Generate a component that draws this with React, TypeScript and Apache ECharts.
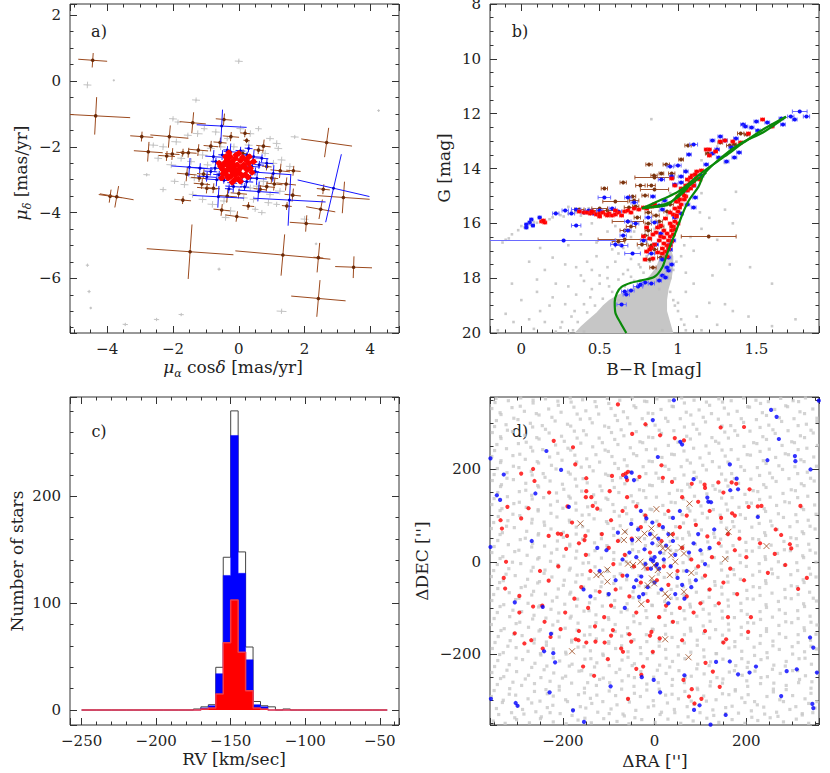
import React, { useEffect, useRef } from "react";
import * as echarts from "echarts";

const FONT = "DejaVu Serif";
const AXC = "#333";

// ---------------- Panel a: proper motions ----------------
// [pmRA cos(dec), pmDec, errRA, errDec, tilt(deg)]
const pmBrown = [
  [-4.44, 0.63, 0.44, 0.22, 4], [-4.35, -1.06, 1.05, 0.57, 3], [-1.4, -1.27, 0.4, 0.32, 5], [-0.45, -1.17, 0.25, 0.18, 5],
  [-2.95, -1.69, 0.35, 0.15, 4], [-2.11, -1.69, 0.58, 0.34, 5], [-2.75, -2.15, 0.44, 0.3, 4], [-2.19, -2.28, 0.25, 0.15, 4],
  [-2.02, -2.22, 0.22, 0.18, 4], [-1.7, -2.18, 0.2, 0.12, 4], [-1.53, -2.18, 0.25, 0.15, 4], [-1.23, -2.1, 0.3, 0.18, 5],
  [-0.85, -1.98, 0.22, 0.16, 5], [-0.57, -1.87, 0.2, 0.15, 5], [-0.24, -1.69, 0.25, 0.14, 5], [0.19, -1.59, 0.15, 0.12, 5],
  [0.24, -1.81, 0.1, 0.08, 5], [0.75, -1.98, 0.22, 0.2, 6], [0.6, -2.1, 0.15, 0.12, 5], [2.67, -1.87, 0.78, 0.45, 8],
  [-3.91, -3.5, 0.35, 0.2, 8], [-3.71, -3.52, 0.52, 0.33, 10], [-1.7, -3.62, 0.25, 0.12, 5], [-1.58, -2.83, 0.3, 0.22, 5],
  [-1.07, -2.83, 0.2, 0.15, 5], [-0.97, -3.26, 0.3, 0.16, 5], [-0.52, -3.92, 0.25, 0.18, 6], [-0.06, -4.12, 0.35, 0.16, 8],
  [0.29, -3.8, 0.18, 0.12, 5], [0.85, -2.6, 0.15, 0.12, 5], [1.08, -3.13, 0.25, 0.2, 6], [1.26, -2.73, 0.3, 0.22, 6],
  [1.44, -3.13, 0.3, 0.2, 6], [1.64, -3.47, 0.25, 0.2, 6], [1.66, -2.73, 0.22, 0.15, 5], [1.46, -3.8, 0.15, 0.12, 5],
  [2.05, -4.33, 0.5, 0.25, 4], [2.49, -3.9, 0.45, 0.3, 10], [2.57, -3.29, 0.2, 0.15, 6], [3.18, -3.54, 0.8, 0.48, 4],
  [-1.48, -5.19, 1.32, 0.83, 4], [1.34, -5.29, 1.45, 0.63, 5], [2.42, -5.37, 0.15, 0.45, 5], [3.49, -5.66, 0.56, 0.33, 2],
  [2.42, -6.61, 0.83, 0.56, 5], [0.85, -3.21, 0.25, 0.15, 6], [0.65, -3.29, 0.2, 0.12, 6], [-1.12, -3.13, 0.25, 0.15, 5],
  [-0.77, -3.26, 0.2, 0.15, 5], [0.12, -2.2, 0.15, 0.12, 5], [-0.35, -3.5, 0.3, 0.2, 5], [0.0, -3.42, 0.25, 0.15, 5],
  [1.0, -2.95, 0.2, 0.15, 5], [-1.2, -2.95, 0.25, 0.12, 5],
];
const pmBlue = [
  [-0.52, -1.37, 0.76, 0.5, 3], [-1.5, -2.62, 0.55, 0.28, 4], [-0.62, -3.52, 0.78, 0.33, 3], [0.6, -3.36, 0.62, 0.3, 4],
  [1.54, -3.62, 1.1, 0.78, 3], [2.88, -3.26, 1.12, 1.06, 13], [1.05, -2.81, 0.55, 0.25, 4], [-0.77, -2.3, 0.25, 0.2, 4],
  [0.45, -2.3, 0.25, 0.2, 4], [0.55, -2.96, 0.3, 0.2, 4], [-0.67, -3.0, 0.35, 0.2, 4], [-0.26, -2.15, 0.2, 0.25, 4],
  [0.24, -3.06, 0.2, 0.15, 4], [-1.18, -2.65, 0.4, 0.15, 4], [0.85, -2.5, 0.2, 0.15, 4], [-0.16, -3.21, 0.25, 0.18, 4],
  [-0.97, -2.91, 0.3, 0.15, 4], [0.4, -2.6, 0.25, 0.2, 4], [-0.7, -2.45, 0.15, 0.12, 4], [-0.6, -2.85, 0.18, 0.12, 4],
  [-0.5, -2.25, 0.12, 0.15, 4], [-0.35, -2.1, 0.12, 0.12, 4], [0.05, -2.12, 0.15, 0.12, 4], [0.25, -2.25, 0.12, 0.1, 4],
  [0.42, -2.45, 0.15, 0.12, 4], [0.5, -2.75, 0.12, 0.12, 4], [0.35, -2.95, 0.15, 0.1, 4], [0.1, -3.05, 0.12, 0.12, 4],
  [-0.2, -3.1, 0.15, 0.12, 4], [-0.45, -3.02, 0.12, 0.1, 4], [-0.72, -2.65, 0.15, 0.12, 4], [-0.55, -2.55, 0.1, 0.1, 4],
  [0.62, -2.55, 0.15, 0.12, 4], [0.3, -2.05, 0.12, 0.12, 4], [-0.3, -3.28, 0.12, 0.14, 4], [0.18, -3.22, 0.14, 0.12, 4],
  [-0.85, -2.75, 0.2, 0.12, 4], [0.7, -2.35, 0.2, 0.12, 4],
];
// [pmRA, pmDec] ; typical error [errRA, errDec]
const pmRed = [
  [-0.15, -2.65], [-0.3, -2.6], [0.0, -2.7], [-0.2, -2.45], [-0.1, -2.85], [-0.4, -2.75], [0.15, -2.55], [-0.35, -2.4],
  [0.05, -2.42], [-0.25, -2.9], [0.1, -2.88], [-0.45, -2.55], [0.25, -2.7], [-0.05, -2.55], [-0.22, -2.72], [-0.1, -2.35],
  [-0.5, -2.68], [0.3, -2.5], [0.2, -2.85], [-0.32, -2.95], [-0.02, -2.98], [-0.4, -2.3], [0.12, -2.32], [-0.28, -2.52],
  [0.02, -2.8], [-0.18, -2.8], [0.35, -2.65], [-0.55, -2.6], [-0.12, -3.0], [-0.08, -2.25], [-0.38, -2.85], [0.22, -2.4],
  [-0.26, -2.3], [0.08, -2.62], [-0.42, -2.48], [0.28, -2.92], [-0.15, -2.55], [-0.05, -2.76], [-0.33, -2.68], [0.18, -2.62],
  [-0.48, -2.82], [0.4, -2.78], [-0.6, -2.5], [0.45, -2.45], [-0.2, -3.08], [0.05, -3.05], [-0.3, -2.18], [0.0, -2.2],
  [-0.52, -2.95], [0.32, -2.3],
];
const pmRedErr = [0.1, 0.09];
// [pmRA, pmDec, errRA, errDec]
const pmGrey = [
  [-2.6, -1.95, 0.15, 0.08], [-2.3, -2.0, 0.12, 0.1], [-1.9, -1.85, 0.15, 0.1], [-1.55, -1.65, 0.12, 0.08], [-1.25, -1.6, 0.15, 0.1],
  [-1.05, -1.45, 0.1, 0.08], [-0.7, -1.55, 0.12, 0.1], [-0.35, -1.75, 0.1, 0.08], [0.05, -1.45, 0.12, 0.1], [0.35, -1.6, 0.12, 0.1],
  [0.6, -1.45, 0.1, 0.08], [0.95, -1.75, 0.12, 0.08], [1.15, -1.9, 0.12, 0.1], [1.7, -1.7, 0.12, 0.06], [-2.45, -2.35, 0.12, 0.1],
  [-2.05, -2.55, 0.15, 0.1], [-1.75, -2.35, 0.12, 0.1], [-1.45, -2.45, 0.12, 0.1], [-1.1, -2.25, 0.15, 0.12], [-0.95, -2.55, 0.12, 0.1],
  [-1.35, -2.95, 0.15, 0.1], [-1.65, -3.15, 0.12, 0.1], [-1.95, -3.05, 0.12, 0.08], [-2.8, -2.85, 0.1, 0.05], [-2.3, -3.3, 0.1, 0.08],
  [-1.4, -3.45, 0.12, 0.1], [-1.1, -3.6, 0.12, 0.1], [-0.8, -3.75, 0.15, 0.1], [-0.45, -3.65, 0.12, 0.1], [-0.25, -3.95, 0.15, 0.12],
  [-0.4, -4.15, 0.12, 0.1], [0.15, -3.55, 0.12, 0.1], [0.45, -3.6, 0.12, 0.1], [0.7, -4.0, 0.12, 0.08], [0.95, -3.45, 0.12, 0.1],
  [1.25, -3.35, 0.15, 0.1], [1.05, -2.5, 0.12, 0.1], [1.3, -2.4, 0.12, 0.1], [0.8, -2.2, 0.12, 0.1], [0.75, -3.05, 0.15, 0.12],
  [0.55, -3.2, 0.12, 0.1], [0.35, -3.25, 0.12, 0.1], [1.15, -3.75, 0.1, 0.08], [2.0, -4.2, 0.12, 0.1], [1.55, -2.6, 0.12, 0.1],
  [-0.55, -2.0, 0.15, 0.1], [-0.15, -2.0, 0.12, 0.1], [0.3, -1.95, 0.12, 0.1], [-0.85, -2.05, 0.12, 0.1], [0.9, -3.7, 0.12, 0.1],
  [-3.8, 0.02, 0.03, 0.03], [-4.6, -0.12, 0.12, 0.1], [0.0, 0.6, 0.12, 0.08], [-1.3, -0.58, 0.12, 0.08], [-4.6, -5.6, 0.05, 0.05],
  [-4.55, -6.4, 0.05, 0.05], [-4.5, -6.9, 0.04, 0.04], [-3.45, -7.4, 0.08, 0.05], [-2.5, -7.25, 0.08, 0.05], [-1.75, -7.1, 0.08, 0.05],
  [-0.6, -5.72, 0.05, 0.05], [1.3, -7.0, 0.15, 0.08], [2.35, -4.95, 0.04, 0.04], [4.25, -0.9, 0.04, 0.04], [-2.0, -1.15, 0.12, 0.08],
  [-1.85, -1.25, 0.1, 0.08], [1.2, -2.05, 0.12, 0.08], [0.5, -3.9, 0.1, 0.08],
];

// ---------------- Panel b: CMD ----------------
// [B-R, G, err, errHi?]
const cmdBlue = [
  [1.777, 11.91, 0.047], [1.82, 12.07, 0.02], [1.72, 12.1, 0.02], [1.66, 12.14, 0.015], [1.745, 12.18, 0.015], [1.67, 12.36, 0.015],
  [1.5, 12.26, 0.015], [1.415, 12.38, 0.015], [1.47, 12.48, 0.015], [1.51, 12.6, 0.015], [1.57, 12.3, 0.015], [1.37, 12.9, 0.015],
  [1.27, 12.82, 0.015], [1.22, 12.97, 0.015], [1.3, 12.97, 0.015], [1.34, 13.2, 0.015], [1.39, 13.4, 0.015], [1.1, 13.09, 0.025],
  [1.07, 13.48, 0.015], [1.22, 13.43, 0.015], [1.26, 13.58, 0.015], [1.31, 13.72, 0.015], [1.36, 13.58, 0.015], [1.18, 13.82, 0.015],
  [1.0, 13.88, 0.02], [0.95, 13.9, 0.02], [0.96, 14.27, 0.015], [0.894, 14.39, 0.02], [1.02, 14.27, 0.015], [1.15, 14.25, 0.015],
  [1.1, 14.61, 0.015], [1.05, 14.8, 0.015], [1.11, 15.04, 0.015], [0.53, 15.04, 0.04], [0.68, 15.04, 0.02], [0.72, 15.22, 0.02],
  [0.35, 15.46, 0.03], [0.43, 15.5, 0.02], [0.5, 15.52, 0.02], [0.4, 15.58, 0.02], [0.32, 15.64, 0.02], [0.22, 15.64, 0.02],
  [0.117, 15.77, 0.01], [0.064, 15.83, 0.01], [0.053, 15.95, 0.01], [0.032, 16.03, 0.01], [0.074, 16.07, 0.01], [0.032, 16.13, 0.01],
  [0.35, 16.07, 0.03], [0.27, 16.59, 0.5, 0.33], [0.64, 16.8, 0.04], [0.6, 16.74, 0.03], [0.71, 17.08, 0.05], [0.65, 16.43, 0.02],
  [0.68, 16.25, 0.02], [0.68, 15.91, 0.02], [0.81, 15.77, 0.02], [0.85, 15.95, 0.02], [0.89, 16.37, 0.015], [0.83, 17.1, 0.02],
  [0.9, 17.29, 0.015], [0.94, 17.23, 0.015], [0.96, 17.47, 0.015], [0.94, 17.71, 0.015], [0.9, 17.89, 0.015], [0.88, 18.08, 0.015],
  [0.83, 18.17, 0.02], [0.79, 18.14, 0.02], [0.745, 18.3, 0.03], [0.7, 18.44, 0.02], [0.67, 18.57, 0.02], [0.64, 18.93, 0.03],
  [0.95, 16.74, 0.015], [0.97, 16.62, 0.015], [1.02, 15.64, 0.015], [1.06, 15.28, 0.015], [1.1, 15.4, 0.015], [0.98, 15.77, 0.015],
  [0.88, 15.34, 0.015], [0.915, 15.16, 0.015], [0.84, 15.01, 0.015], [0.9, 15.46, 0.015], [1.02, 14.49, 0.015], [0.93, 17.6, 0.015],
  [0.92, 17.95, 0.015], [0.95, 16.95, 0.015], [0.78, 16.6, 0.02], [0.73, 16.0, 0.02], [0.62, 15.55, 0.02], [0.58, 15.45, 0.02],
  [0.46, 15.62, 0.02], [0.28, 15.52, 0.02], [1.43, 12.45, 0.015], [1.6, 12.4, 0.015], [1.25, 13.3, 0.015], [1.05, 14.1, 0.015],
  [0.98, 14.55, 0.015], [0.86, 16.75, 0.015], [0.76, 18.2, 0.02], [0.66, 18.48, 0.02],
];
// [B-R, G]; typical colour error
const cmdRed = [
  [0.92, 17.0], [0.93, 16.8], [0.91, 16.7], [0.94, 16.6], [0.95, 16.45], [0.93, 16.35], [0.96, 16.25], [0.97, 16.1], [0.95, 16.0],
  [0.98, 15.9], [0.99, 15.75], [0.97, 15.65], [1.0, 15.55], [1.01, 15.4], [1.02, 15.3], [1.0, 15.2], [1.04, 15.1], [1.05, 15.0],
  [1.03, 14.9], [1.06, 14.8], [1.08, 14.7], [1.07, 14.55], [1.1, 14.45], [1.12, 14.35], [1.09, 14.25], [0.9, 16.9], [0.88, 16.6],
  [0.89, 16.45], [0.86, 16.3], [0.87, 16.15], [0.91, 16.5], [0.94, 16.9], [0.96, 16.65], [0.85, 16.75], [0.83, 16.85], [0.8, 17.0],
  [0.79, 17.3], [0.82, 16.55], [0.84, 16.4], [0.87, 17.05], [0.9, 17.1], [0.92, 15.8], [0.95, 15.6], [0.98, 15.45], [1.0, 15.0],
  [1.02, 14.7], [1.05, 14.6], [1.12, 14.1], [1.15, 14.05], [1.2, 13.5], [1.18, 13.3], [1.2, 13.28], [1.24, 13.35], [1.27, 13.0],
  [1.3, 12.95], [1.35, 13.0], [1.4, 13.05], [1.54, 12.2], [1.6, 12.45], [1.45, 12.7], [1.06, 14.4], [0.96, 14.35], [1.1, 14.6],
  [0.98, 14.6], [0.78, 16.45], [0.8, 16.15], [0.82, 16.95], [0.84, 17.25], [0.13, 15.9], [0.15, 15.95], [0.14, 15.88],
  [0.37, 15.55], [0.4, 15.6], [0.42, 15.58], [0.44, 15.62], [0.46, 15.6], [0.48, 15.65], [0.5, 15.63], [0.52, 15.6], [0.54, 15.66],
  [0.56, 15.62], [0.58, 15.7], [0.6, 15.65], [0.62, 15.6], [0.64, 15.68], [0.66, 15.55], [0.68, 15.5], [0.7, 15.6], [0.72, 15.45],
  [0.55, 15.7], [0.5, 15.72], [0.45, 15.55], [0.6, 15.5], [0.75, 15.48], [0.78, 15.4], [0.8, 15.45], [0.83, 15.35], [0.85, 15.3],
  [0.98, 16.2], [1.0, 16.0], [0.99, 15.2], [1.03, 14.75], [1.11, 14.2], [0.93, 17.2], [0.95, 16.8], [0.97, 16.4], [0.96, 16.1],
  [0.99, 15.7], [1.01, 15.1], [1.04, 14.95], [1.08, 14.5], [1.14, 14.4], [1.08, 14.3], [0.91, 16.25], [0.89, 16.05],
];
const cmdRedErr = 0.012;
const cmdBrown = [
  [1.064, 13.16, 0.02], [1.02, 13.64, 0.015], [0.815, 13.85, 0.02], [0.925, 13.82, 0.02], [0.894, 14.16, 0.015], [0.96, 14.15, 0.02],
  [0.847, 14.22, 0.02], [0.85, 14.3, 0.125], [0.65, 14.49, 0.02], [0.83, 14.59, 0.025], [0.53, 14.71, 0.02], [0.85, 14.73, 0.09],
  [0.79, 14.98, 0.02], [0.71, 15.0, 0.02], [0.6, 15.2, 0.08], [0.72, 15.15, 0.03], [0.37, 15.48, 0.03], [0.45, 15.52, 0.04],
  [0.687, 15.4, 0.03], [0.73, 15.36, 0.02], [0.81, 15.6, 0.02], [0.86, 15.7, 0.02], [0.93, 15.55, 0.02], [0.88, 15.9, 0.02],
  [0.89, 16.08, 0.02], [0.81, 15.98, 0.02], [0.74, 15.77, 0.02], [0.68, 15.93, 0.1], [0.66, 16.25, 0.03], [0.81, 16.23, 0.02],
  [0.79, 16.44, 0.02], [0.66, 16.57, 0.17], [0.83, 16.8, 0.02], [0.85, 16.92, 0.02], [0.82, 17.29, 0.02], [0.89, 17.23, 0.02],
  [0.84, 17.59, 0.02], [1.196, 16.47, 0.175], [1.33, 13.15, 0.02], [1.36, 13.1, 0.015], [1.27, 13.05, 0.015], [1.4, 12.7, 0.02],
  [1.44, 12.75, 0.015], [1.19, 13.45, 0.015], [0.7, 16.1, 0.03], [0.62, 16.65, 0.04], [0.77, 16.75, 0.03], [0.55, 15.5, 0.05],
  [0.5, 15.45, 0.05], [0.95, 15.3, 0.02], [0.76, 14.6, 0.03],
];
const cmdGrey = [
  [0.83, 12.2], [1.37, 14.85], [1.3, 15.5], [1.35, 16.0], [1.33, 17.5], [1.3, 18.95], [1.46, 17.6], [1.2, 15.8], [1.15, 16.2],
  [1.25, 16.6], [1.1, 17.0], [1.08, 16.5], [1.14, 15.6], [1.05, 18.5], [1.1, 18.2], [1.2, 18.9], [1.12, 19.4], [1.25, 19.7],
  [1.6, 19.75], [1.35, 19.2], [1.05, 17.8], [1.0, 18.9], [0.3, 18.3], [0.2, 18.7], [0.1, 18.5], [-0.06, 18.2], [0.05, 19.5],
  [-0.15, 19.9], [-0.05, 19.6], [0.12, 19.2], [0.25, 19.8], [0.32, 19.4], [0.18, 19.0], [0.4, 18.95], [0.35, 18.6], [0.45, 18.4],
  [0.5, 18.2], [0.38, 17.9], [0.45, 17.7], [0.55, 17.6], [0.6, 17.4], [0.5, 17.9], [0.65, 17.85], [0.62, 17.1], [0.7, 17.3],
  [0.75, 17.5], [0.68, 17.7], [0.78, 17.8], [0.82, 17.4], [0.85, 17.1], [0.42, 17.4], [0.28, 17.5], [0.15, 17.7], [0.05, 17.4],
  [0.2, 17.25], [0.58, 16.95], [0.48, 16.7], [0.38, 16.4], [0.55, 16.3], [0.3, 16.8], [0.12, 16.9], [-0.1, 16.6], [-0.06, 16.4],
  [-0.02, 16.25], [0.02, 16.15], [0.06, 16.05], [0.1, 15.98], [0.15, 15.9], [0.2, 15.78], [0.25, 15.7], [0.3, 15.65], [0.35, 15.6],
  [0.4, 15.52], [0.45, 15.5], [0.5, 15.48], [0.27, 15.75], [0.22, 15.6], [0.32, 15.58], [0.18, 15.85], [0.08, 15.95], [0.0, 16.1],
  [0.38, 15.72], [0.43, 15.45], [0.3, 15.4], [-0.12, 16.7], [-0.08, 16.55], [0.6, 16.1], [0.7, 16.5], [0.75, 16.9], [0.8, 16.7],
  [0.85, 16.2], [0.83, 15.9], [0.88, 15.55], [0.9, 15.25], [0.95, 14.9], [1.0, 14.3], [1.05, 14.05], [1.15, 13.7], [1.25, 13.2],
  [1.3, 13.8], [1.38, 13.4], [0.93, 15.7], [0.96, 17.0], [0.99, 17.4], [1.02, 17.2], [1.04, 16.8], [0.97, 17.7], [0.95, 18.0],
  [0.36, 19.6], [0.33, 19.9], [0.42, 19.25], [0.47, 19.0], [0.52, 18.75], [0.58, 18.5], [0.66, 18.3], [0.72, 18.1], [0.85, 18.15],
  [0.95, 18.5], [0.98, 19.0], [1.02, 19.5], [1.05, 19.9], [0.4, 19.95], [0.3, 20.0], [0.26, 19.6], [0.22, 19.95], [0.34, 19.2],
  [0.44, 18.7], [0.56, 18.3], [0.62, 18.05], [0.7, 17.95], [0.76, 17.6], [0.8, 17.2], [0.88, 18.4], [0.97, 18.8], [1.0, 19.2],
  [1.04, 19.7], [0.9, 19.9], [1.15, 19.9], [0.15, 19.6], [0.08, 19.85], [-0.1, 19.3], [0.0, 18.8], [0.22, 18.2], [0.35, 17.6],
  [0.48, 17.2], [0.55, 18.0], [0.62, 18.8], [0.4, 18.1], [0.28, 18.95], [0.1, 18.05], [0.6, 16.6], [0.45, 16.0], [0.65, 16.9],
  [1.22, 17.9], [1.45, 19.4], [1.75, 19.5], [1.6, 18.2], [1.15, 14.9], [0.72, 16.3],
];
// outline of the densest part of the faint main sequence
const cmdDense = [
  [0.34, 20.0], [0.38, 19.75], [0.43, 19.5], [0.48, 19.25], [0.52, 19.0], [0.56, 18.8], [0.62, 18.6], [0.7, 18.4], [0.76, 18.2],
  [0.82, 17.9], [0.86, 17.6], [0.88, 17.3], [0.91, 17.0], [0.95, 16.9], [0.97, 17.2], [0.97, 17.6], [0.96, 18.0], [0.94, 18.4],
  [0.93, 18.8], [0.93, 19.2], [0.95, 19.6], [0.97, 20.0],
];
const isoRGB = [
  [0.67, 20.0], [0.63, 19.6], [0.6, 19.25], [0.596, 18.87], [0.61, 18.55], [0.64, 18.32], [0.7, 18.17], [0.766, 18.08], [0.85, 17.95],
  [0.9, 17.6], [0.925, 17.2], [0.947, 16.86], [0.99, 16.25], [1.03, 15.64], [1.07, 15.16], [1.13, 14.67], [1.17, 14.18], [1.28, 13.58],
  [1.4, 13.09], [1.55, 12.66], [1.69, 12.11],
];
const isoAGB = [
  [0.77, 15.45], [0.85, 15.25], [0.93, 15.05], [1.0, 14.85], [1.06, 14.6], [1.12, 14.3], [1.2, 13.95], [1.3, 13.55], [1.42, 13.05],
  [1.55, 12.55], [1.69, 12.11],
];
const isoHB1 = [[0.77, 15.45], [0.88, 15.35], [0.96, 15.2], [1.02, 14.95], [1.06, 14.7], [1.09, 14.45]];
const isoHB2 = [[0.77, 15.45], [0.86, 15.4], [0.93, 15.33], [0.98, 15.1], [1.03, 14.8], [1.1, 14.5], [1.18, 14.15]];

// ---------------- Panel c: RV histogram ----------------
const rvStart = -250;
const rvWidth = 5;
const rvAll = [
  0, 0, 0, 0, 0, 0, 0, 0, 0, 0, 0, 0, 0, 0, 0, 1, 3, 5, 40, 143, 280, 148, 59, 8, 4, 3, 0, 1, 0, 0, 0, 0, 0, 0, 0, 0, 0, 0, 0, 0, 0,
];
const rvBlue = [
  0, 0, 0, 0, 0, 0, 0, 0, 0, 0, 0, 0, 0, 0, 0, 0, 2, 4, 34, 126, 257, 128, 47, 5, 3, 0, 0, 0, 0, 0, 0, 0, 0, 0, 0, 0, 0, 0, 0, 0, 0,
];
const rvRed = [
  0, 0, 0, 0, 0, 0, 0, 0, 0, 0, 0, 0, 0, 0, 0, 0, 1, 2, 15, 63, 103, 54, 18, 2, 1, 0, 0, 0, 0, 0, 0, 0, 0, 0, 0, 0, 0, 0, 0, 0, 0,
];

// ---------------- Panel d: positions ----------------
// flat lists of dRA, dDEC pairs (arcsec) for the field stars
const fieldGrey = [
  -352,-345,-326,-350,-301,-342,-273,-349,-249,-340,-221,-347,-193,-351,-167,-343,-138,-349,-111,-340,-82,-346,-56,-351,-28,-342,1,-348,29,-341,57,-350,84,-345,114,-339,140,-348,169,-342,197,-350,225,-344,252,-338,281,-347,309,-341,336,-350,
  -345,-318,-312,-327,-288,-320,-259,-325,-234,-316,-206,-329,-178,-321,-150,-317,-124,-326,-95,-319,-69,-330,-41,-322,-14,-315,15,-326,43,-320,71,-314,99,-327,127,-321,155,-316,183,-328,211,-323,238,-315,266,-326,295,-320,322,-329,350,-317,
  -356,-292,-330,-300,-303,-289,-276,-297,-250,-302,-221,-291,-194,-299,-166,-288,-140,-296,-113,-303,-85,-290,-58,-298,-31,-292,-3,-301,24,-289,52,-297,80,-302,107,-291,134,-299,162,-288,190,-295,218,-303,245,-292,273,-299,301,-290,328,-297,354,-303,
  -343,-266,-316,-275,-290,-268,-262,-264,-237,-277,-208,-270,-181,-263,-153,-274,-127,-268,-98,-262,-72,-276,-45,-270,-17,-265,10,-276,38,-268,65,-262,93,-274,121,-269,148,-263,176,-277,203,-270,231,-264,259,-276,287,-268,314,-262,341,-274,
  -355,-240,-329,-249,-301,-238,-275,-246,-248,-251,-220,-241,-194,-248,-165,-237,-139,-245,-112,-252,-84,-240,-57,-247,-30,-238,-2,-250,25,-242,53,-236,80,-248,108,-243,136,-251,163,-239,191,-246,219,-237,246,-249,274,-242,301,-236,329,-247,355,-241,
  -342,-214,-317,-223,-288,-212,-261,-220,-235,-226,-207,-215,-180,-222,-152,-211,-126,-219,-99,-225,-71,-213,-44,-221,-16,-210,11,-224,39,-216,66,-210,94,-222,122,-217,149,-211,177,-225,204,-218,232,-212,260,-224,287,-216,315,-210,342,-222,
  -354,-188,-330,-197,-302,-186,-276,-194,-249,-199,-221,-189,-194,-196,-167,-185,-140,-193,-113,-200,-85,-188,-58,-195,-31,-186,-4,-198,24,-190,51,-184,79,-196,107,-191,134,-199,162,-187,190,-194,217,-185,245,-197,272,-190,300,-184,327,-195,353,-189,
  -341,-162,-315,-171,-289,-160,-262,-168,-236,-174,-208,-163,-181,-170,-153,-159,-127,-167,-100,-173,-72,-161,-45,-169,-18,-158,10,-172,38,-164,65,-158,93,-170,120,-165,148,-159,175,-173,203,-166,231,-160,258,-172,286,-164,313,-158,340,-170,
  -356,-136,-328,-145,-302,-134,-275,-142,-249,-147,-222,-137,-195,-144,-167,-133,-141,-141,-113,-148,-86,-136,-59,-143,-32,-134,-5,-146,23,-138,50,-132,78,-144,106,-139,133,-147,161,-135,189,-142,216,-133,244,-145,271,-138,299,-132,326,-143,354,-137,
  -343,-110,-316,-119,-290,-108,-263,-116,-237,-122,-209,-111,-182,-118,-154,-107,-128,-115,-101,-121,-73,-109,-46,-117,-19,-106,9,-120,37,-112,64,-106,92,-118,119,-113,147,-107,174,-121,202,-114,230,-108,257,-120,285,-112,312,-106,339,-118,
  -355,-84,-329,-93,-303,-82,-276,-90,-250,-95,-223,-85,-196,-92,-168,-81,-142,-89,-114,-96,-87,-84,-60,-91,-33,-82,-6,-94,22,-86,49,-80,77,-92,105,-87,132,-95,160,-83,188,-90,215,-81,243,-93,270,-86,298,-80,325,-91,353,-85,
  -342,-58,-317,-67,-291,-56,-264,-64,-238,-70,-210,-59,-183,-66,-155,-55,-129,-63,-102,-69,-74,-57,-47,-65,-20,-54,8,-68,36,-60,63,-54,91,-66,118,-61,146,-55,173,-69,201,-62,229,-56,256,-68,284,-60,311,-54,338,-66,
  -356,-32,-330,-41,-304,-30,-277,-38,-251,-43,-224,-33,-197,-40,-169,-29,-143,-37,-115,-44,-88,-32,-61,-39,-34,-30,-7,-42,21,-34,48,-28,76,-40,104,-35,131,-43,159,-31,187,-38,214,-29,242,-41,269,-34,297,-28,324,-39,352,-33,
  -343,-6,-318,-15,-292,-4,-265,-12,-239,-18,-211,-7,-184,-14,-156,-3,-130,-11,-103,-17,-75,-5,-48,-13,-21,-2,7,-16,35,-8,62,-2,90,-14,117,-9,145,-3,172,-17,200,-10,228,-4,255,-16,283,-8,310,-2,337,-14,
  -355,20,-331,11,-305,22,-278,14,-252,9,-225,19,-198,12,-170,23,-144,15,-116,8,-89,20,-62,13,-35,22,-8,10,20,18,47,24,75,12,103,17,130,9,158,21,186,14,213,23,241,11,268,18,296,24,323,13,351,19,
  -342,46,-319,37,-293,48,-266,40,-240,34,-212,45,-185,38,-157,49,-131,41,-104,35,-76,47,-49,39,-22,50,6,36,34,44,61,50,89,38,116,43,144,49,171,35,199,42,227,48,254,36,282,44,309,50,336,38,
  -356,72,-332,63,-306,74,-279,66,-253,61,-226,71,-199,64,-171,75,-145,67,-117,60,-90,72,-63,65,-36,74,-9,62,19,70,46,76,74,64,102,69,129,61,157,73,185,66,212,75,240,63,267,70,295,76,322,65,350,71,
  -341,98,-320,89,-294,100,-267,92,-241,86,-213,97,-186,90,-158,101,-132,93,-105,87,-77,99,-50,91,-23,102,5,88,33,96,60,102,88,90,115,95,143,101,170,87,198,94,226,100,253,88,281,96,308,102,335,90,
  -355,124,-333,115,-307,126,-280,118,-254,113,-227,123,-200,116,-172,127,-146,119,-118,112,-91,124,-64,117,-37,126,-10,114,18,122,45,128,73,116,101,121,128,113,156,125,184,118,211,127,239,115,266,122,294,128,321,117,349,123,
  -342,150,-321,141,-295,152,-268,144,-242,139,-214,149,-187,142,-159,153,-133,145,-106,138,-78,150,-51,143,-24,154,4,140,32,148,59,154,87,142,114,147,142,153,169,139,197,146,225,152,252,140,280,148,307,154,334,142,
  -354,176,-334,167,-308,178,-281,170,-255,165,-228,175,-201,168,-173,179,-147,171,-119,164,-92,176,-65,169,-38,178,-11,166,17,174,44,180,72,168,100,173,127,165,155,177,183,170,210,179,238,167,265,174,293,180,320,169,348,175,
  -343,202,-322,193,-296,204,-269,196,-243,191,-215,201,-188,194,-160,205,-134,197,-107,190,-79,202,-52,195,-25,206,3,192,31,200,58,206,86,194,113,199,141,205,168,191,196,198,224,204,251,192,279,200,306,206,333,194,
  -355,228,-335,219,-309,230,-282,222,-256,217,-229,227,-202,220,-174,231,-148,223,-120,216,-93,228,-66,221,-39,230,-12,218,16,226,43,232,71,220,99,225,126,217,154,229,182,222,209,231,237,219,264,226,292,232,319,221,347,227,
  -344,254,-323,245,-297,256,-270,248,-244,243,-216,253,-189,246,-161,257,-135,249,-108,242,-80,254,-53,247,-26,258,2,244,30,252,57,258,85,246,112,251,140,257,167,243,195,250,223,256,250,244,278,252,305,258,332,246,355,252,
  -354,280,-336,271,-310,282,-283,274,-257,269,-230,279,-203,272,-175,283,-149,275,-121,268,-94,280,-67,273,-40,282,-13,270,15,278,42,284,70,272,98,277,125,269,153,281,181,274,208,283,236,271,263,278,291,284,318,273,346,279,
  -345,306,-324,297,-298,308,-271,300,-245,295,-217,305,-190,298,-162,309,-136,301,-109,294,-81,306,-54,299,-27,310,1,296,29,304,56,310,84,298,111,303,139,309,166,295,194,302,222,308,249,296,277,304,304,310,331,298,354,304,
  -355,332,-337,323,-311,334,-284,326,-258,321,-231,331,-204,324,-176,335,-150,327,-122,320,-95,332,-68,325,-41,334,-14,322,14,330,41,336,69,324,97,329,124,321,152,333,180,326,207,335,235,323,262,330,290,336,317,325,345,331,
  -346,354,-319,349,-292,355,-265,350,-238,353,-211,348,-184,355,-157,351,-130,347,-103,354,-76,350,-49,355,-22,348,5,353,32,349,59,355,86,350,113,346,140,353,167,349,194,355,221,350,248,347,275,354,302,349,329,355,
];
const fieldGrey2 = [
  -340,-331,-305,-338,-285,-330,-247,-336,-228,-327,-180,-333,-152,-339,-99,-329,-66,-334,-43,-338,12,-331,44,-327,73,-336,129,-333,155,-329,212,-337,240,-330,269,-335,322,-332,345,-327,
  -332,-305,-298,-313,-268,-306,-222,-311,-190,-303,-162,-314,-137,-307,-82,-310,-55,-304,-2,-312,28,-306,86,-309,113,-302,169,-313,197,-305,224,-310,281,-303,308,-314,336,-307,
  -350,-279,-317,-287,-262,-281,-234,-286,-208,-278,-153,-284,-126,-289,-99,-280,-44,-285,-17,-278,38,-287,66,-281,94,-277,148,-286,176,-280,204,-288,259,-282,287,-277,341,-285,
  -336,-253,-309,-261,-282,-254,-228,-259,-201,-252,-146,-262,-120,-255,-71,-258,-44,-251,8,-262,39,-255,67,-250,122,-260,149,-254,201,-258,232,-251,260,-263,316,-255,343,-260,
  -349,-227,-322,-235,-268,-229,-241,-234,-186,-226,-159,-236,-131,-228,-76,-233,-49,-225,6,-235,33,-228,92,-232,119,-225,174,-236,202,-229,257,-233,285,-226,312,-236,
  -338,-201,-302,-209,-248,-202,-221,-208,-193,-200,-139,-210,-112,-203,-58,-207,-30,-199,25,-209,52,-202,108,-206,135,-199,190,-210,218,-203,246,-208,301,-200,328,-209,
  -348,-175,-320,-183,-263,-176,-236,-181,-181,-174,-154,-184,-100,-177,-72,-182,-17,-173,10,-183,65,-176,93,-181,148,-174,175,-184,230,-177,258,-182,313,-175,341,-183,
  -335,-149,-307,-157,-252,-150,-224,-155,-169,-148,-141,-158,-86,-151,-59,-156,-3,-147,24,-157,79,-150,107,-155,162,-148,189,-158,244,-151,272,-156,327,-149,352,-157,
  -350,-123,-294,-131,-266,-124,-211,-129,-184,-122,-128,-132,-100,-125,-45,-130,-17,-121,38,-131,66,-124,121,-129,148,-122,203,-132,231,-125,286,-130,313,-123,341,-131,
  -337,-97,-309,-105,-253,-98,-226,-103,-170,-96,-143,-106,-88,-99,-60,-104,-5,-95,23,-105,78,-98,106,-103,161,-96,189,-106,244,-99,272,-104,327,-97,
  -351,-71,-296,-79,-268,-72,-213,-77,-185,-70,-130,-80,-102,-73,-47,-78,-19,-69,36,-79,64,-72,119,-77,147,-70,202,-80,230,-73,285,-78,313,-71,346,-79,
  -338,-45,-282,-53,-255,-46,-199,-51,-172,-44,-117,-54,-89,-47,-34,-52,-6,-43,49,-53,77,-46,132,-51,160,-44,215,-54,243,-47,298,-52,326,-45,
  -351,-19,-324,-27,-269,-20,-241,-25,-186,-18,-158,-28,-103,-21,-75,-26,-20,-17,8,-27,63,-20,91,-25,146,-18,174,-28,229,-21,257,-26,312,-19,340,-27,
  -337,7,-310,-1,-255,6,-227,1,-172,8,-144,-2,-89,5,-62,0,-7,9,21,-1,76,6,104,1,159,8,187,-2,242,5,270,0,325,9,352,-1,
  -350,33,-296,25,-268,32,-213,27,-185,34,-130,24,-103,31,-48,26,-20,35,35,25,62,32,118,27,145,34,200,24,228,31,283,26,311,35,339,25,
  -337,59,-282,51,-254,58,-199,53,-171,60,-116,50,-89,57,-34,52,-6,61,49,51,76,58,131,53,159,60,214,50,242,57,297,52,325,61,
  -351,85,-323,77,-268,84,-240,79,-185,86,-157,76,-102,83,-75,78,-20,87,8,77,63,84,90,79,145,86,173,76,228,83,256,78,311,87,339,77,
  -337,111,-309,103,-254,110,-226,105,-171,112,-143,102,-88,109,-61,104,-6,113,22,103,77,110,104,105,159,112,187,102,242,109,270,104,325,113,352,103,
  -350,137,-295,129,-267,136,-212,131,-184,138,-129,128,-102,135,-47,130,-19,139,36,129,63,136,118,131,146,138,201,128,229,135,284,130,312,139,
  -336,163,-281,155,-253,162,-198,157,-170,164,-115,154,-88,161,-33,156,-5,165,50,155,77,162,132,157,160,164,215,154,243,161,298,156,326,165,
  -350,189,-322,181,-267,188,-239,183,-184,190,-156,180,-101,187,-74,182,-19,191,9,181,64,188,91,183,146,190,174,180,229,187,257,182,312,191,340,181,
  -336,215,-308,207,-253,214,-225,209,-170,216,-142,206,-87,213,-60,208,-5,217,23,207,78,214,105,209,160,216,188,206,243,213,271,208,326,217,353,207,
  -349,241,-294,233,-266,240,-211,235,-183,242,-128,232,-101,239,-46,234,-18,243,37,233,64,240,119,235,147,242,202,232,230,239,285,234,313,243,
  -335,267,-280,259,-252,266,-197,261,-169,268,-114,258,-87,265,-32,260,-4,269,51,259,78,266,133,261,161,268,216,258,244,265,299,260,327,269,
  -349,293,-321,285,-266,292,-238,287,-183,294,-155,284,-100,291,-73,286,-18,295,10,285,65,292,92,287,147,294,175,284,230,291,258,286,313,295,341,285,
  -335,319,-307,311,-252,318,-224,313,-169,320,-141,310,-86,317,-59,312,-4,321,24,311,79,318,106,313,161,320,189,310,244,317,272,312,327,321,354,311,
  -348,345,-293,337,-265,344,-210,339,-182,346,-127,336,-100,343,-45,338,-17,347,38,337,65,344,120,339,148,346,203,336,231,343,286,338,314,347,
];
const posRed = [
  [-80, 341], [-20, 298], [-49, 277], [12, 274], [44, 268], [64, 263], [144, 291], [195, 292], [-220, 262], [-178, 248], [-173, 211],
  [-265, 201], [-262, 175], [-291, 191], [-275, 116], [-321, 119], [-336, 90], [-333, 72], [-291, 94], [-324, 0], [-329, -35],
  [-326, -58], [-295, -74], [-295, -110], [-305, -155], [-284, -177], [-269, -170], [-265, -97], [-245, -95], [-231, -41],
  [-231, 56], [-211, 61], [-191, 56], [-193, 28], [-151, 56], [-153, 47], [-149, 181], [-149, 153], [-138, 140], [-135, 121],
  [-93, 186], [-98, 153], [-69, 188], [-63, 191], [-58, 195], [-60, 177], [-33, 184], [18, 182], [15, 209], [38, 173], [81, 169],
  [109, 167], [139, 172], [168, 172], [178, 169], [207, 157], [205, 119], [169, 105], [233, 121], [318, 121], [264, 70], [276, 58],
  [295, 38], [298, 29], [262, 17], [285, -7], [247, -24], [332, -35], [313, -59], [204, -152], [156, -168], [111, -219],
  [127, -238], [142, -271], [102, -297], [87, -307], [75, -292], [81, -276], [63, -256], [-58, -297], [-25, -227], [-40, -232],
  [-29, -245], [-132, -247], [-156, -227], [-166, -170], [-149, -175], [-129, -173], [-109, -175], [-102, -211], [-69, -195],
  [-73, -188], [-4, -195], [11, -166], [-7, -152], [-55, -157], [-51, -173], [-91, -148], [-172, -168], [-205, -146], [-227, -163],
  [-244, -188], [-204, 60], [-180, 85], [-165, 40], [-150, 15], [-140, -20], [-160, -55], [-175, -80], [-145, -100], [-120, -65],
  [-110, -120], [-130, -140], [-95, -95], [-85, -60], [-70, -30], [-90, -5], [-100, 30], [-115, 60], [-95, 90], [-70, 110],
  [-60, 140], [-40, 120], [-20, 100], [-30, 75], [-50, 50], [-80, 45], [-65, 15], [-45, -10], [-30, -45], [-55, -75], [-40, -110],
  [-15, -85], [10, -120], [25, -95], [40, -130], [55, -100], [70, -75], [85, -110], [100, -90], [120, -60], [110, -30], [95, -10],
  [125, 10], [140, 40], [115, 55], [90, 80], [70, 100], [95, 130], [120, 110], [145, 95], [160, 60], [175, 25], [165, -15],
  [150, -45], [140, -90], [160, -120], [180, -70], [195, -40], [200, 10], [185, 50], [175, 100], [150, 150], [110, 160], [60, 140],
  [30, 110], [10, 80], [40, 60], [60, 30], [80, 5], [50, -20], [30, -50], [5, -40], [-10, 20], [15, 45], [-15, -15], [20, -10],
  [55, 75], [-125, 115], [-150, 140], [-190, 120], [-210, -10], [-195, -110], [-165, -150], [-95, -160], [-10, -160], [60, -170],
  [110, -150], [150, -175], [210, -120], [230, 40], [225, 120], [-230, 150], [-250, -20], [-240, -130],
];
const posBlue = [
  [-358, 224], [-236, 240], [-204, 199], [-329, 189], [-344, 144], [-337, 134], [-260, 148], [-268, 45], [-187, 119], [-358, 32],
  [-305, -88], [-244, -98], [-226, -156], [-241, -194], [-221, -198], [-217, -218], [-229, -283], [-357, -297], [-303, -306],
  [-299, -312], [-178, -322], [-154, -347], [-96, -270], [-28, -250], [-2, -256], [12, -283], [65, -246], [98, -311], [86, -321],
  [134, -217], [122, -353], [155, -332], [164, -216], [182, -244], [207, -240], [221, -227], [276, -291], [288, -237], [310, -233],
  [339, -164], [346, -186], [354, -240], [344, -308], [346, -317], [358, 349], [340, 200], [307, 218], [306, 229], [246, 220],
  [254, 329], [266, 314], [271, 266], [225, 97], [179, 180], [164, 211], [165, 155], [182, 157], [42, 350], [-4, 307], [7, 227],
  [56, 260], [60, 254], [85, 179], [115, 139], [117, 130], [123, 129], [-50, 193], [-45, 177], [-62, 183], [-155, -60], [-140, -75],
  [-120, -20], [-125, 30], [-105, 25], [-80, 63], [-65, -100], [-51, 82], [-49, 47], [-36, 70], [-40, -40], [-34, -76], [-29, -32],
  [-22, 27], [-18, 94], [-10, 60], [-5, 40], [0, 10], [5, -5], [-8, -15], [12, 20], [20, 5], [25, 35], [30, 60], [40, 45], [45, 15],
  [35, -10], [50, -35], [60, -50], [70, -20], [75, 20], [85, 40], [95, 60], [100, 25], [110, -5], [80, -55], [65, -80], [45, -70],
  [30, -90], [15, -60], [0, -45], [-15, -55], [-25, -70], [-45, -55], [-60, -30], [-70, 5], [-55, 20], [-40, 10], [-20, -5], [8, 50],
  [18, 75], [-5, 85], [40, 95], [-30, 110], [55, 110], [90, -40], [120, 30], [130, 70], [-85, -40], [-100, -70], [-3, 2], [3, -8],
  [-8, 5], [10, -15],
];
const posBrown = [
  [-162, 83], [4, 114], [76, 126], [161, 65], [244, 34], [154, 6], [-180, -194], [74, -207], [23, -168], [-29, -92], [-127, -29],
  [-117, -27], [-103, -17], [-103, -43], [-67, 47], [-65, 65], [-35, 48], [-22, 61], [-7, 72], [0, 54], [13, 38], [18, 29], [35, 59],
  [29, 29], [36, 14], [58, 31], [64, 18], [45, 0], [33, -29], [23, -69], [29, -76], [-15, -51], [-6, -36], [-22, -11], [-47, -7],
  [-58, -4], [-31, 0], [-1, -7], [7, -18], [-1, -47], [64, -65], [80, -24],
];

// ---------------- helpers ----------------
const fmt = (v: number) => {
  const r = Math.round(v * 1000) / 1000;
  return r < 0 ? "\u2212" + String(Math.abs(r)) : String(r);
};

function axisPair(dim: "x" | "y", grid: number, min: number, max: number, major: number, minorSplit: number, edgeLabels: boolean, inverse = false) {
  const base: any = {
    type: "value",
    gridIndex: grid,
    min,
    max,
    inverse,
    splitNumber: Math.max(1, Math.round((max - min) / major)),
    minInterval: major,
    maxInterval: major,
    axisLine: { show: false, onZero: false },
    axisTick: { show: true, inside: true, length: 7, lineStyle: { color: AXC, width: 1 } },
    minorTick: { show: true, splitNumber: minorSplit, length: 3.5, lineStyle: { color: AXC, width: 1 } },
    splitLine: { show: false },
    minorSplitLine: { show: false },
  };
  const main = {
    ...base,
    position: dim === "x" ? "bottom" : "left",
    axisLabel: {
      show: true,
      margin: dim === "x" ? 8 : 9,
      fontFamily: FONT,
      fontSize: 15,
      color: "#222",
      formatter: fmt,
      showMinLabel: edgeLabels,
      showMaxLabel: edgeLabels,
    },
  };
  const mirror = { ...base, position: dim === "x" ? "top" : "right", axisLabel: { show: false } };
  return [main, mirror];
}

const crossItem = (stroke: string, dot: string, r: number, lw = 1) => (params: any, api: any) => {
  const x = api.value(0), y = api.value(1), ex = api.value(2), ey = api.value(3);
  const t = ((api.value(4) as number) || 0) * Math.PI / 180;
  const c = Math.cos(t), s = Math.sin(t);
  const h1 = api.coord([x - ex * c, y + ex * s]);
  const h2 = api.coord([x + ex * c, y - ex * s]);
  const v1 = api.coord([x + ey * s, y + ey * c]);
  const v2 = api.coord([x - ey * s, y - ey * c]);
  const p = api.coord([x, y]);
  const children: any[] = [
    { type: "line", shape: { x1: h1[0], y1: h1[1], x2: h2[0], y2: h2[1] }, style: { stroke, lineWidth: lw } },
    { type: "line", shape: { x1: v1[0], y1: v1[1], x2: v2[0], y2: v2[1] }, style: { stroke, lineWidth: lw } },
  ];
  if (r > 0) children.push({ type: "circle", shape: { cx: p[0], cy: p[1], r }, style: { fill: dot } });
  return { type: "group", children };
};

const hbarItem = (color: string, barColor: string, r: number) => (params: any, api: any) => {
  const x = api.value(0), g = api.value(1), e1 = api.value(2), e2 = api.value(3);
  const p = api.coord([x, g]);
  const a = api.coord([x - e1, g]);
  const b = api.coord([x + e2, g]);
  const yy = Math.round(p[1]) + 0.5;
  const st = { stroke: barColor, lineWidth: 1 };
  return {
    type: "group",
    children: [
      { type: "line", shape: { x1: a[0], y1: yy, x2: b[0], y2: yy }, style: st },
      { type: "line", shape: { x1: a[0], y1: yy - 2, x2: a[0], y2: yy + 2 }, style: st },
      { type: "line", shape: { x1: b[0], y1: yy - 2, x2: b[0], y2: yy + 2 }, style: st },
      { type: "circle", shape: { cx: p[0], cy: yy, r }, style: { fill: color } },
    ],
  };
};

const histData = (counts: number[]) => {
  const d = counts.map((c, i) => [rvStart + i * rvWidth, c]);
  d.push([rvStart + counts.length * rvWidth, counts[counts.length - 1]]);
  return d;
};

const pairs = (flat: number[]) => {
  const out: number[][] = [];
  for (let i = 0; i + 1 < flat.length; i += 2) out.push([flat[i], flat[i + 1]]);
  return out;
};

const titleRich = {
  n: { fontFamily: FONT, fontSize: 17, color: "#222", lineHeight: 24, verticalAlign: "middle" },
  m: { fontFamily: FONT, fontSize: 17, fontStyle: "italic", color: "#222", lineHeight: 24, verticalAlign: "middle" },
  s: { fontFamily: FONT, fontSize: 11, fontStyle: "italic", color: "#222", lineHeight: 12, verticalAlign: "bottom" },
};

const txt = (text: string, x: number, y: number, rot = 0, size = 17) => ({
  type: "text",
  x,
  y,
  rotation: rot,
  silent: true,
  style: { text, x: 0, y: 0, align: "center", verticalAlign: "middle", fontFamily: FONT, fontSize: size, fill: "#222", rich: titleRich },
});

function buildOption(): any {
  const grids = [
    { left: 70, top: 4, width: 329, height: 329 },
    { left: 490, top: 4, width: 329, height: 329 },
    { left: 70, top: 397, width: 329, height: 328 },
    { left: 490, top: 397, width: 329, height: 328 },
  ].map((g) => ({ ...g, show: true, borderColor: AXC, borderWidth: 1, backgroundColor: "transparent", containLabel: false, outerBoundsMode: "none" }));

  const xAxis = [
    ...axisPair("x", 0, -5.13, 4.87, 2, 4, false),
    ...axisPair("x", 1, -0.2, 1.9, 0.5, 5, false),
    ...axisPair("x", 2, -257.8, -37.1, 50, 5, false),
    ...axisPair("x", 3, -359, 358.5, 200, 4, false),
  ];
  const yAxis = [
    ...axisPair("y", 0, -7.66, 2.34, 2, 4, false),
    ...axisPair("y", 1, 8, 20, 2, 4, true, true),
    ...axisPair("y", 2, -14, 293, 100, 5, false),
    ...axisPair("y", 3, -353.7, 357, 200, 4, false),
  ];

  const cust = (ax: number, data: any[], renderItem: any, z = 2) => ({
    type: "custom",
    xAxisIndex: ax,
    yAxisIndex: ax,
    clip: true,
    silent: true,
    z,
    encode: { x: 0, y: 1 },
    data,
    renderItem,
  });

  const series: any[] = [
    // panel a
    cust(0, pmGrey.map((d) => [d[0], d[1], d[2], d[3], 3]), crossItem("#c4c4c4", "#c4c4c4", 0.8), 2),
    cust(0, pmBrown, crossItem("#9c4a1e", "#6b2a08", 1.8), 3),
    cust(0, pmBlue, crossItem("#1515ff", "#0000cc", 1.5), 4),
    cust(0, pmRed.map((d) => [d[0], d[1], pmRedErr[0], pmRedErr[1], 3]), crossItem("#ff0000", "#ff0000", 2.8, 1.6), 5),
    // panel b
    {
      type: "scatter", xAxisIndex: 2, yAxisIndex: 2, silent: true, symbol: "rect", symbolSize: 2.6,
      itemStyle: { color: "#bdbdbd" }, data: cmdGrey, z: 1,
    },
    cust(2, [cmdDense[0]], (params: any, api: any) => ({
      type: "polygon",
      shape: { points: cmdDense.map((p) => api.coord(p)) },
      style: { fill: "#c6c6c6" },
    }), 1),
    cust(2, cmdBrown.map((d) => [d[0], d[1], d[2], d[2]]), hbarItem("#7a3510", "#a0522d", 1.9), 3),
    cust(2, cmdBlue.map((d) => [d[0], d[1], d[2], d.length > 3 ? d[3] : d[2]]), hbarItem("#1010ff", "#6a6aff", 2.1), 4),
    cust(2, cmdRed.map((d) => [d[0], d[1], cmdRedErr, cmdRedErr]), hbarItem("#ff0000", "#ff3030", 2.1), 5),
    ...[isoRGB, isoAGB, isoHB1, isoHB2].map((line) => ({
      type: "line", xAxisIndex: 2, yAxisIndex: 2, silent: true, symbol: "none", smooth: 0.3, z: 6,
      lineStyle: { color: "#0a8a0a", width: 2.2 }, data: line,
    })),
    // panel c
    {
      type: "line", xAxisIndex: 4, yAxisIndex: 4, silent: true, step: "end", symbol: "none", z: 2,
      lineStyle: { color: "#444", width: 1 }, data: histData(rvAll),
    },
    {
      type: "line", xAxisIndex: 4, yAxisIndex: 4, silent: true, step: "end", symbol: "none", z: 3,
      lineStyle: { color: "#0000ff", width: 0.5 }, areaStyle: { color: "#0000ff", opacity: 1 }, data: histData(rvBlue),
    },
    {
      type: "line", xAxisIndex: 4, yAxisIndex: 4, silent: true, step: "end", symbol: "none", z: 4,
      lineStyle: { color: "#ee3b4c", width: 1.5 }, areaStyle: { color: "#ff0000", opacity: 1 }, data: histData(rvRed),
    },
    // panel d
    {
      type: "scatter", xAxisIndex: 6, yAxisIndex: 6, silent: true, symbol: "rect", symbolSize: 3.2,
      itemStyle: { color: "#c8c8c8" }, data: pairs(fieldGrey).concat(pairs(fieldGrey2)), z: 1,
    },
    {
      type: "scatter", xAxisIndex: 6, yAxisIndex: 6, silent: true, symbol: "circle", symbolSize: 4.2,
      itemStyle: { color: "#ff0000" }, data: posRed, z: 2,
    },
    {
      type: "scatter", xAxisIndex: 6, yAxisIndex: 6, silent: true, symbol: "circle", symbolSize: 4.2,
      itemStyle: { color: "#0000ff" }, data: posBlue, z: 3,
    },
    {
      type: "scatter", xAxisIndex: 6, yAxisIndex: 6, silent: true, symbol: "path://M0,0L10,10M10,0L0,10", symbolSize: 6,
      itemStyle: { color: "rgba(0,0,0,0)", borderColor: "#9c4a1e", borderWidth: 1 }, data: posBrown, z: 4,
    },
  ];

  const graphic = [
    txt("a)", 99, 31, 0, 16),
    txt("b)", 520, 31, 0, 16),
    txt("c)", 99, 431, 0, 16),
    txt("d)", 520, 431, 0, 16),
    txt("{m|\u03bc}{s|\u03b1}{n| cos}{m|\u03b4}{n| [mas/yr]}", 233, 367),
    txt("{m|\u03bc}{s|\u03b4}{n| [mas/yr]}", 21, 173, Math.PI / 2),
    txt("B\u2212R [mag]", 654, 369),
    txt("G [mag]", 444, 168, Math.PI / 2),
    txt("RV [km/sec]", 234, 759),
    txt("Number of stars", 17, 561, Math.PI / 2),
    txt("\u0394RA ['']", 655, 761),
    txt("\u0394DEC ['']", 422, 561, Math.PI / 2),
  ];

  return { animation: false, backgroundColor: "#ffffff", grid: grids, xAxis, yAxis, series, graphic };
}

export default function App() {
  const ref = useRef<HTMLDivElement>(null);
  useEffect(() => {
    document.body.style.margin = "0";
    const chart = echarts.init(ref.current as HTMLDivElement, null, { renderer: "svg" });
    chart.setOption(buildOption());
    return () => chart.dispose();
  }, []);
  return <div ref={ref} style={{ width: 830, height: 773 }} />;
}
